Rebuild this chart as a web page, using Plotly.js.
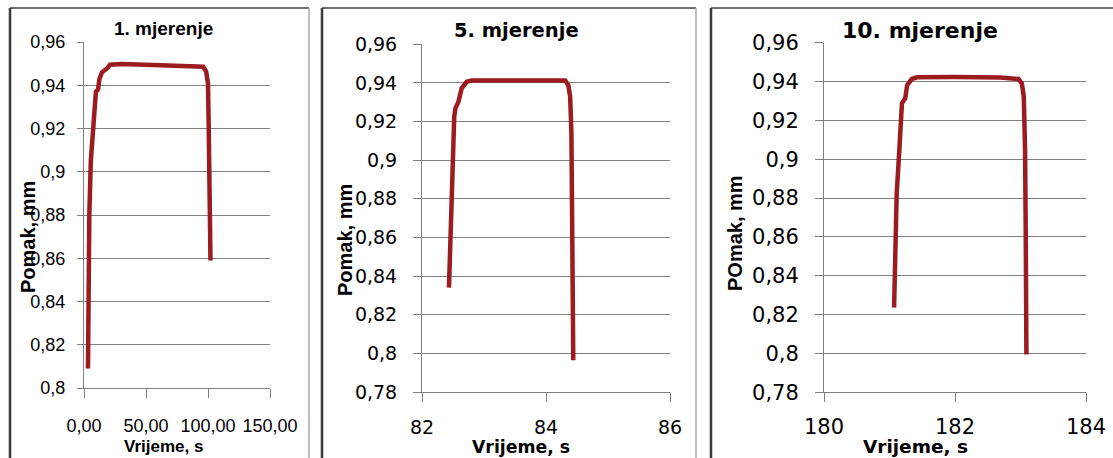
<!DOCTYPE html>
<html><head><meta charset="utf-8">
<script src="https://cdn.plot.ly/plotly-3.0.1.min.js"></script>
<style>html,body{margin:0;padding:0;background:#fff}#chart{width:1113px;height:458px}</style>
</head><body><div id="chart"></div>
<script>
// ---- data ----
const titles = ['1. mjerenje', '5. mjerenje', '10. mjerenje'];
const xTitle = 'Vrijeme, s';
const yTitles = ['Pomak, mm', 'Pomak, mm', 'POmak, mm'];

const t1 = [3.2, 3.5, 4.3, 5.5, 7.5, 8.9, 9.6, 11.3, 12.5, 14.5, 17, 19, 21, 30, 50, 70, 90, 96, 98.5, 100, 100.6, 101.3, 101.6, 102];
const y1 = [0.809, 0.84, 0.88, 0.905, 0.92, 0.935, 0.937, 0.938, 0.943, 0.946, 0.947, 0.948, 0.9495, 0.9498, 0.9495, 0.9492, 0.9488, 0.9486, 0.9463, 0.9409, 0.92, 0.8994, 0.88, 0.859];

const t2 = [82.435, 82.46, 82.48, 82.495, 82.52, 82.54, 82.585, 82.64, 82.72, 82.80, 83.2, 83.8, 84.31, 84.36, 84.39, 84.41, 84.425, 84.44];
const y2 = [0.834, 0.86, 0.8793, 0.90, 0.9225, 0.927, 0.930, 0.9372, 0.9406, 0.9413, 0.9414, 0.9413, 0.9412, 0.9389, 0.9328, 0.914, 0.862, 0.7964];

const t3 = [181.07, 181.09, 181.11, 181.15, 181.17, 181.19, 181.24, 181.27, 181.34, 181.42, 182.0, 182.69, 182.97, 183.02, 183.05, 183.07, 183.08, 183.09];
const y3 = [0.8236, 0.8618, 0.8824, 0.9047, 0.9236, 0.9288, 0.9313, 0.9382, 0.9413, 0.9422, 0.9423, 0.9421, 0.9413, 0.9391, 0.9322, 0.9047, 0.8618, 0.7995];

const xRanges = [[0, 150], [82, 86], [180, 184]];
const xTickVals = [[0, 50, 100, 150], [82, 84, 86], [180, 182, 184]];
const xTickText = [['0,00', '50,00', '100,00', '150,00'], ['82', '84', '86'], ['180', '182', '184']];
const yRanges = [[0.8, 0.96], [0.78, 0.96], [0.78, 0.96]];
const yTickVals1 = [0.8, 0.82, 0.84, 0.86, 0.88, 0.9, 0.92, 0.94, 0.96];
const yTickText1 = ['0,8', '0,82', '0,84', '0,86', '0,88', '0,9', '0,92', '0,94', '0,96'];
const yTickVals2 = [0.78, 0.8, 0.82, 0.84, 0.86, 0.88, 0.9, 0.92, 0.94, 0.96];
const yTickText2 = ['0,78', '0,8', '0,82', '0,84', '0,86', '0,88', '0,9', '0,92', '0,94', '0,96'];

// ---- layout helpers ----
const W = 1113, H = 458;
const px = v => v / W;
const py = v => 1 - v / H;
const lineColor = '#9B1B1F';
const gridColor = '#808080';

// plot area boxes in pixels: [left, right, top, bottom]
const boxes = [[84, 270, 42, 388], [422, 670, 44.3, 392], [824, 1086, 42.7, 392.3]];
const tickFonts = [
  {family: 'Liberation Sans, Arial, sans-serif', size: 18, color: '#000'},
  {family: 'DejaVu Sans, sans-serif', size: 19, color: '#000'},
  {family: 'DejaVu Sans, sans-serif', size: 21, color: '#000'}
];
const xs = [t1, t2, t3], ys = [y1, y2, y3];
const yTV = [yTickVals1, yTickVals2, yTickVals2];
const yTT = [yTickText1, yTickText2, yTickText2];
const xStandoff = [12, 9, 6];

const data = [];
const layout = {
  width: W, height: H,
  margin: {l: 0, r: 0, t: 0, b: 0},
  paper_bgcolor: '#fff', plot_bgcolor: '#fff',
  showlegend: false,
  separators: ', ',
  annotations: [], shapes: []
};

for (let i = 0; i < 3; i++) {
  const sx = i === 0 ? '' : String(i + 1);
  data.push({
    x: xs[i], y: ys[i], type: 'scatter', mode: 'lines',
    xaxis: 'x' + sx, yaxis: 'y' + sx,
    line: {color: lineColor, width: 4.5}
  });
  const b = boxes[i];
  layout['xaxis' + sx] = {
    domain: [px(b[0]), px(b[1])], anchor: 'y' + sx,
    range: xRanges[i], tickvals: xTickVals[i], ticktext: xTickText[i],
    showgrid: false, zeroline: false, showline: true, linecolor: gridColor, linewidth: 1,
    ticks: 'outside', ticklen: 9, tickcolor: gridColor, tickwidth: 1,
    tickfont: tickFonts[i], ticklabelstandoff: xStandoff[i], fixedrange: true
  };
  layout['yaxis' + sx] = {
    domain: [py(b[3]), py(b[2])], anchor: 'x' + sx,
    range: yRanges[i], tickvals: yTV[i], ticktext: yTT[i],
    showgrid: true, gridcolor: gridColor, gridwidth: 1,
    zeroline: false, showline: true, linecolor: gridColor, linewidth: 1,
    ticks: 'outside', ticklen: i === 0 ? 6 : 8, tickcolor: gridColor, tickwidth: 1,
    tickfont: tickFonts[i], ticklabelstandoff: i === 0 ? 8 : 12, fixedrange: true
  };
}

// titles as annotations
const titlePos = [[163, 28], [516, 30], [920, 30]];
const titleFonts = [
  {family: 'Liberation Sans, Arial, sans-serif', size: 19, color: '#000', weight: 'bold'},
  {family: 'DejaVu Sans, sans-serif', size: 19.5, color: '#000', weight: 'bold'},
  {family: 'DejaVu Sans, sans-serif', size: 22, color: '#000', weight: 'bold'}
];
const xTitlePos = [[163, 446], [521, 447], [915, 446]];
const xTitleFonts = [
  {family: 'Liberation Sans, Arial, sans-serif', size: 17, color: '#000', weight: 'bold'},
  {family: 'DejaVu Sans, sans-serif', size: 17.3, color: '#000', weight: 'bold'},
  {family: 'DejaVu Sans, sans-serif', size: 18.5, color: '#000', weight: 'bold'}
];
const yTitlePos = [[28, 237], [345, 240], [735, 233]];
for (let i = 0; i < 3; i++) {
  layout.annotations.push({text: '<b>' + titles[i] + '</b>', xref: 'paper', yref: 'paper',
    x: px(titlePos[i][0]), y: py(titlePos[i][1]), xanchor: 'center', yanchor: 'middle',
    showarrow: false, font: titleFonts[i]});
  layout.annotations.push({text: '<b>' + xTitle + '</b>', xref: 'paper', yref: 'paper',
    x: px(xTitlePos[i][0]), y: py(xTitlePos[i][1]), xanchor: 'center', yanchor: 'middle',
    showarrow: false, font: xTitleFonts[i]});
  layout.annotations.push({text: '<b>' + yTitles[i] + '</b>', xref: 'paper', yref: 'paper',
    x: px(yTitlePos[i][0]), y: py(yTitlePos[i][1]), xanchor: 'center', yanchor: 'middle',
    textangle: -90, showarrow: false,
    font: {family: 'Liberation Sans, Arial, sans-serif', size: 20, color: '#000', weight: 'bold'}});
}

// panel frames
const frames = [[10, 309], [322, 696], [711, 1120]];
for (const f of frames) {
  layout.shapes.push({type: 'line', xref: 'paper', yref: 'paper', x0: px(f[0]), x1: px(f[1]), y0: py(8), y1: py(8), line: {color: '#6f6f6f', width: 2}});
  layout.shapes.push({type: 'line', xref: 'paper', yref: 'paper', x0: px(f[0]), x1: px(f[0]), y0: py(8), y1: py(470), line: {color: '#3a3a3a', width: 2.5}});
  layout.shapes.push({type: 'line', xref: 'paper', yref: 'paper', x0: px(f[1]), x1: px(f[1]), y0: py(8), y1: py(470), line: {color: '#a8a8a8', width: 1.5}});
}

Plotly.newPlot('chart', data, layout, {displayModeBar: false, staticPlot: true});
</script>
</body></html>
